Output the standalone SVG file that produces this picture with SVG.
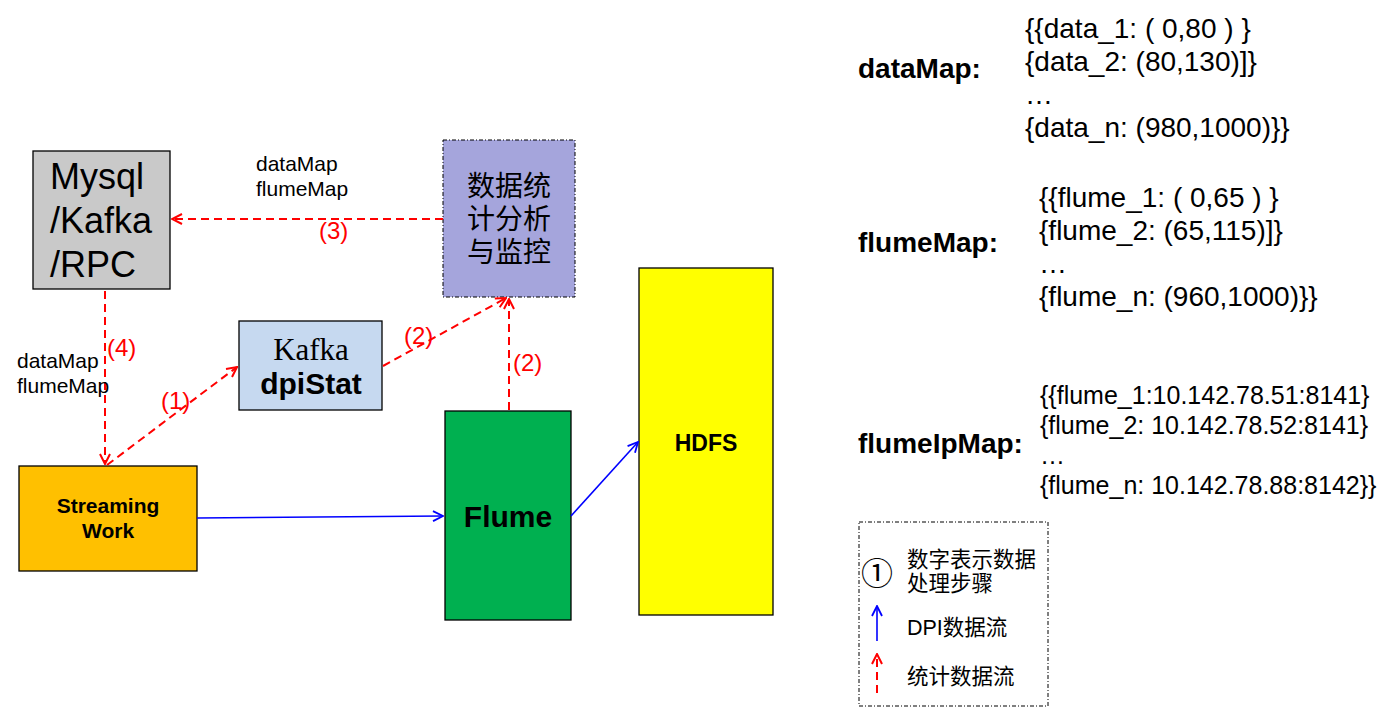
<svg xmlns="http://www.w3.org/2000/svg" width="1379" height="712" viewBox="0 0 1379 712">
<defs>
<style>
text{font-family:"Liberation Sans",Arial,"Noto Sans CJK SC",sans-serif;fill:#000}
.cjk{font-family:"Liberation Sans","Noto Sans CJK SC",sans-serif}
.b{font-weight:bold}
.box{stroke:#000;stroke-width:1.3}
.red{stroke:#ff0000;stroke-width:2;stroke-dasharray:8,5;fill:none}
.blue{stroke:#0000ff;stroke-width:1.6;fill:none}
.lbl{fill:#ff0000;font-size:24px}
.sm{font-size:21px}
.map{font-size:28px}
.ip{font-size:25px}
.key{font-size:28px;font-weight:bold}
</style>
<marker id="ar" markerUnits="userSpaceOnUse" viewBox="0 0 12 12" refX="11" refY="6" markerWidth="12" markerHeight="12" orient="auto">
<path d="M1,1 L11,6 L1,11" fill="none" stroke="#ff0000" stroke-width="2"/>
</marker>
<marker id="ab" markerUnits="userSpaceOnUse" viewBox="0 0 12 12" refX="11" refY="6" markerWidth="12" markerHeight="12" orient="auto">
<path d="M1,1 L11,6 L1,11" fill="none" stroke="#0000ff" stroke-width="1.8"/>
</marker>
</defs>
<rect width="1379" height="712" fill="#fff"/>

<g id="mysql">
<rect class="box" x="33" y="151" width="137" height="138" fill="#c9c9c9"/>
<text x="50" y="189" font-size="36">Mysql</text>
<text x="50" y="233" font-size="36">/Kafka</text>
<text x="50" y="277" font-size="36">/RPC</text>
</g>

<g id="stat">
<rect x="443" y="140" width="132" height="157" fill="#a5a5dc" stroke="#000" stroke-width="1" stroke-dasharray="4,2,1,2"/>
<text class="cjk" x="509" y="196" font-size="28" text-anchor="middle">数据统</text>
<text class="cjk" x="509" y="229" font-size="28" text-anchor="middle">计分析</text>
<text class="cjk" x="509" y="262" font-size="28" text-anchor="middle">与监控</text>
</g>

<g id="kafka">
<rect class="box" x="239" y="321" width="143" height="89" fill="#c6d9f0"/>
<text x="311" y="360" font-size="31" text-anchor="middle" style="font-family:'Liberation Serif','Times New Roman',serif">Kafka</text>
<text class="b" x="311" y="394" font-size="30" text-anchor="middle">dpiStat</text>
</g>

<g id="streaming">
<rect class="box" x="19" y="466" width="178" height="105" fill="#ffc000"/>
<text class="b" x="108" y="513" font-size="21" text-anchor="middle">Streaming</text>
<text class="b" x="108" y="538" font-size="21" text-anchor="middle">Work</text>
</g>

<g id="flume">
<rect class="box" x="445" y="411" width="126" height="209" fill="#00b050"/>
<text class="b" x="508" y="527" font-size="30" text-anchor="middle">Flume</text>
</g>

<g id="hdfs">
<rect class="box" x="639" y="268" width="134" height="347" fill="#ffff00"/>
<text class="b" x="706" y="451" font-size="23" text-anchor="middle">HDFS</text>
</g>

<g id="connectors">
<line class="red" x1="443" y1="219" x2="172" y2="219" marker-end="url(#ar)"/>
<line class="red" x1="105" y1="291" x2="105" y2="464" marker-end="url(#ar)"/>
<line class="red" x1="107" y1="465" x2="237" y2="367" marker-end="url(#ar)"/>
<line class="red" x1="383" y1="366" x2="506" y2="298" marker-end="url(#ar)"/>
<line class="red" x1="509" y1="410" x2="509" y2="299" marker-end="url(#ar)"/>
<line class="blue" x1="197" y1="518" x2="443" y2="516" marker-end="url(#ab)"/>
<line class="blue" x1="571" y1="516" x2="638" y2="442" marker-end="url(#ab)"/>
<text class="lbl" x="319" y="239">(3)</text>
<text class="lbl" x="107" y="356">(4)</text>
<text class="lbl" x="161" y="409">(1)</text>
<text class="lbl" x="404" y="344">(2)</text>
<text class="lbl" x="513" y="371">(2)</text>
<text class="sm" x="256" y="171">dataMap</text>
<text class="sm" x="256" y="196">flumeMap</text>
<text class="sm" x="17" y="368">dataMap</text>
<text class="sm" x="17" y="393">flumeMap</text>
</g>

<g id="dataMap">
<text class="key" x="858" y="78">dataMap:</text>
<text class="map" x="1025" y="38">{{data_1: ( 0,80 ) }</text>
<text class="map" x="1025" y="71">{data_2: (80,130)]}</text>
<text class="map" x="1025" y="104">…</text>
<text class="map" x="1025" y="137">{data_n: (980,1000)}}</text>
</g>

<g id="flumeMap">
<text class="key" x="858" y="252">flumeMap:</text>
<text class="map" x="1039" y="207">{{flume_1: ( 0,65 ) }</text>
<text class="map" x="1039" y="240">{flume_2: (65,115)]}</text>
<text class="map" x="1039" y="273">…</text>
<text class="map" x="1039" y="306">{flume_n: (960,1000)}}</text>
</g>

<g id="flumeIpMap">
<text class="key" x="858" y="453">flumeIpMap:</text>
<text class="ip" x="1040" y="404">{{flume_1:10.142.78.51:8141}</text>
<text class="ip" x="1040" y="434">{flume_2: 10.142.78.52:8141}</text>
<text class="ip" x="1040" y="464">…</text>
<text class="ip" x="1040" y="494">{flume_n: 10.142.78.88:8142}}</text>
</g>

<g id="legend">
<rect x="859" y="522" width="189" height="184" fill="none" stroke="#000" stroke-width="1" stroke-dasharray="4,2,1,2"/>
<text class="cjk" x="877" y="585" font-size="32" text-anchor="middle">①</text>
<text class="cjk" x="907" y="567" font-size="21.5">数字表示数据</text>
<text class="cjk" x="907" y="591" font-size="21.5">处理步骤</text>
<line class="blue" x1="877" y1="641" x2="877" y2="606" stroke-width="2" marker-end="url(#ab)"/>
<text class="cjk" x="907" y="635" font-size="21.5">DPI数据流</text>
<line class="red" x1="877" y1="693" x2="877" y2="654" stroke-dasharray="7,4" marker-end="url(#ar)"/>
<text class="cjk" x="907" y="684" font-size="21.5">统计数据流</text>
</g>
</svg>
